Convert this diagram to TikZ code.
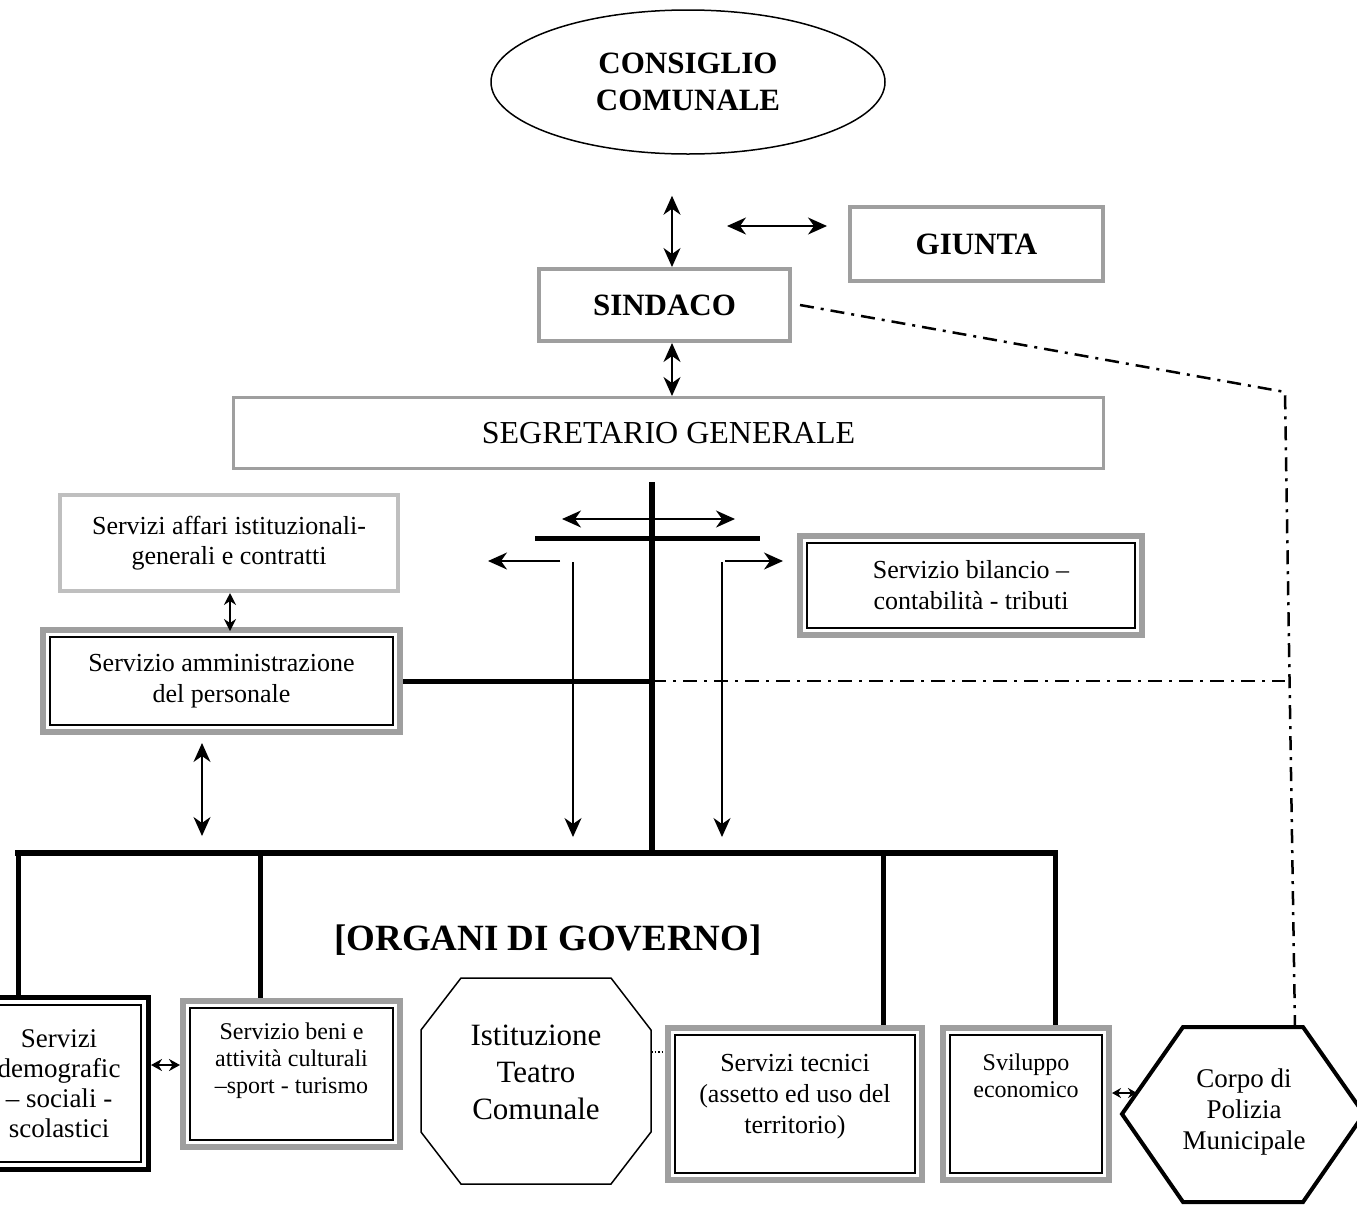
\documentclass[tikz,border=0pt]{standalone}
\usepackage{fontspec}
\setmainfont{Liberation Serif}
\usetikzlibrary{arrows.meta,shapes.geometric}
\tikzset{sbox/.style = {draw=gray!75, line width=4pt, fill=white, align=center, font=\bfseries\fontsize{31}{37}\selectfont}}
\tikzset{lbox/.style = {draw=gray!50, line width=4pt, fill=white, align=center, font=\fontsize{26}{30}\selectfont}}
\tikzset{dbox/.style = {draw=gray!75, line width=6pt, fill=white, align=center, font=\fontsize{26}{31}\selectfont}}
\tikzset{bbox/.style = {draw=black, line width=5pt, fill=white, align=center, font=\fontsize{27}{30}\selectfont}}
\tikzset{bar/.style = {line width=5pt}}
\tikzset{dbl/.style = {<->, line width=1.5pt}}
\tikzset{dashdot/.style = {line width=2.5pt, dash pattern=on 14pt off 7pt on 3pt off 7pt}}
\begin{document}
\begin{tikzpicture}[x=1pt, y=-1pt, >={Stealth[length=19pt,width=17pt,inset=6pt]}]
\useasboundingbox (0,0) rectangle (1357,1211);
\clip (0,0) rectangle (1357,1211);
% free ends
\coordinate (hub) at (652,853);
\coordinate (bend) at (1285,392);
\coordinate (pm) at (1295,1027);
\coordinate (barL) at (535,538);
\coordinate (barR) at (760,538);
% lines behind the boxes
\draw[bar, line width=6pt] (15,853) -- (1058,853);
\draw[bar, line width=6pt] (652,482) -- (hub);
\draw[bar] (barL) -- (barR);
\draw[dbl] (562,519) -- (735,519);
\draw[->, line width=1.5pt] (560,561) -- (488,561);
\draw[->, line width=1.5pt] (725,561) -- (783,561);
\draw[->, line width=1.3pt] (573,562) -- (573,837);
\draw[->, line width=1.3pt] (722,562) -- (722,837);
\node[ellipse, draw, line width=1.5pt, fill=white, minimum width=394, minimum height=144, align=center, font=\bfseries\fontsize{31}{37}\selectfont] (consiglio) at (688,82) {CONSIGLIO\\COMUNALE};
\node[sbox, minimum width=251, minimum height=72] (sindaco) at (664.5,305) {SINDACO};
\node[sbox, minimum width=253, minimum height=74] (giunta) at (976.5,244) {GIUNTA};
\node[sbox, line width=3pt, minimum width=870, minimum height=71, font=\fontsize{32}{38}\selectfont] (segr) at (668.5,433) {SEGRETARIO GENERALE};
\node[lbox, minimum width=338, minimum height=96] (affari) at (229,543) {Servizi affari istituzionali-\\generali e contratti};
\node[dbox, minimum width=357, minimum height=102] (adm) at (221.5,681) {Servizio amministrazione\\del personale};
\node[dbox, minimum width=342, minimum height=99] (bil) at (971,585.5) {Servizio bilancio –\\contabilità - tributi};
\node[bbox, minimum width=179, minimum height=172] (demo) at (59,1083.5) {Servizi\\demografic\\– sociali -\\scolastici};
\node[dbox, minimum width=217, minimum height=146, text depth=31pt, font=\fontsize{24}{27}\selectfont] (beni) at (291.5,1074) {Servizio beni e\\attività culturali\\–sport - turismo};
\node[dbox, minimum width=254, minimum height=152, text depth=21pt] (tec) at (795,1104) {Servizi tecnici\\(assetto ed uso del\\territorio)};
\node[dbox, minimum width=166, minimum height=152, text depth=57pt, font=\fontsize{24}{27}\selectfont] (svi) at (1026,1104) {Sviluppo\\economico};
\foreach \n in {adm,bil,beni,tec,svi,demo}
  \draw[line width=1.2pt] ([shift={(10,10)}]\n.north west) rectangle ([shift={(-10,-10)}]\n.south east);
\node[font=\bfseries\fontsize{37}{44}\selectfont] (organi) at (548,940) {[ORGANI DI GOVERNO]};
% octagon and hexagon
\draw[line width=1.5pt, fill=white] (461,978) -- (611,978) -- (651,1030) -- (651,1132) -- (611,1184) -- (461,1184) -- (421,1132) -- (421,1030) -- cycle;
\node[align=center, font=\fontsize{31}{37}\selectfont] (teatro) at (536,1072) {Istituzione\\Teatro\\Comunale};
\draw[line width=4pt, fill=white] (1183,1027) -- (1303,1027) -- (1364,1114) -- (1303,1202) -- (1183,1202) -- (1122,1114) -- cycle;
\node[align=center, font=\fontsize{27}{31}\selectfont] (polizia) at (1244,1112) {Corpo di\\Polizia\\Municipale};
% connectors
\draw[dbl] ([shift={(-16,41)}]consiglio.south) -- ([shift={(7.5,0)}]sindaco.north);
\draw[dbl] ([shift={(-121,-18)}]giunta.west) -- ([shift={(-21,-18)}]giunta.west);
\draw[dbl] ([shift={(7.5,0)}]sindaco.south) -- ([shift={(7.5,0)}]sindaco.south |- segr.north);
\draw[dbl, >={Stealth[length=12pt,width=12pt,inset=4pt]}] ([shift={(1,0)}]affari.south) -- ([shift={(1,4)}]affari.south |- adm.north);
\draw[dbl] ([shift={(-19.5,8)}]adm.south) -- ([shift={(-19.5,0)}]adm.south |- 0,836);
\draw[bar] (adm.east) -- (adm.east -| hub);
\draw[dashdot] (adm.east -| hub) -- (adm.east -| bend);
\draw[dashdot] ([shift={(8,0)}]sindaco.east) -- (bend) -- (pm);
\foreach \x/\n in {18/demo, 260/beni, 883/tec, 1055/svi}
  \draw[bar] (\x,853) -- (\x,853 |- \n.north);
\draw[dbl, line width=2.5pt, >={Stealth[length=11pt,width=12pt]}] ([shift={(0,-18.5)}]demo.east) -- ([shift={(0,-18.5)}]demo.east -| beni.west);
\draw[dotted, line width=1.5pt] (651,1052) -- (651,1052 -| tec.west);
\draw[line width=2pt, {Stealth[length=9pt,width=10pt]}-{Stealth[length=9pt,width=10pt]}] ([shift={(0,-11)}]svi.east) -- (1137,1093);
\end{tikzpicture}
\end{document}
